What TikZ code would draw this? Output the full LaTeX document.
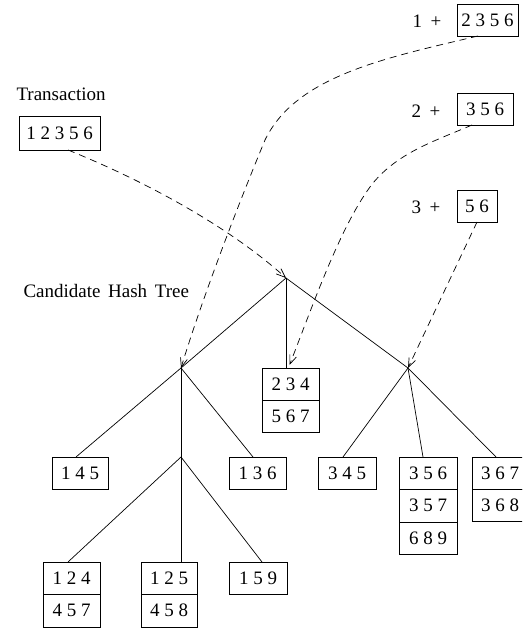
\documentclass[tikz,border=0pt]{standalone}
\usepackage{fontspec}
\setmainfont{Liberation Serif}
\usetikzlibrary{arrows.meta}

\begin{document}
\begin{tikzpicture}[x=1pt,y=-1pt,
  every node/.style={font=\fontsize{19}{21}\selectfont},
  cell/.style={draw, line width=0.8pt, inner sep=0pt, outer sep=0pt,
    minimum height=32pt, anchor=center},
  edge/.style={line width=0.7pt},
  probe/.style={line width=0.7pt, dash pattern=on 7pt off 5pt,
    -{Straight Barb[length=9pt,width=7pt]}}
]
\useasboundingbox (0,0) rectangle (522,628);
\clip (0,0) rectangle (522,628);

% transaction and its prefixes
\node[anchor=base west] (trlabel) at (13,101) {Transaction};
\node[cell, minimum width=81pt, minimum height=34pt] (trbox) at (59.5,133) {1 2 3 5 6};

\node[anchor=base west] (p1) at (409,28) {1\hspace{0.45em}+};
\node[cell, minimum width=61pt] (b2356) at (487.5,20) {2 3 5 6};
\node[anchor=base west] (p2) at (408,118) {2\hspace{0.45em}+};
\node[cell, minimum width=56pt] (b356t) at (485,109) {3 5 6};
\node[anchor=base west] (p3) at (408,213) {3\hspace{0.45em}+};
\node[cell, minimum width=40pt] (b56) at (477,206) {5 6};

\node[anchor=base west] (htlabel) at (20,297) {Candidate\hspace{0.4em}Hash\hspace{0.4em}Tree};

% interior points of the hash tree
\coordinate (root) at (286,278);
\coordinate (nL) at (181,368);
\coordinate (nR) at (408,368);
\coordinate (n2) at (181,457);

% leaves
\node[cell, minimum width=57pt] (b234) at (290.5,384) {2 3 4};
\node[cell, minimum width=57pt] (b567) at (290.5,416) {5 6 7};

\node[cell, minimum width=56pt] (b145) at (80,473) {1 4 5};
\node[cell, minimum width=57pt] (b136) at (257.5,473) {1 3 6};

\node[cell, minimum width=58pt] (b345) at (347,473) {3 4 5};
\node[cell, minimum width=58pt] (b356) at (428,473) {3 5 6};
\node[cell, minimum width=58pt, minimum height=33pt] (b357) at (428,505.5) {3 5 7};
\node[cell, minimum width=58pt] (b689) at (428,538) {6 8 9};
\node[cell, minimum width=56pt] (b367) at (500,473) {3 6 7};
\node[cell, minimum width=56pt] (b368) at (500,505) {3 6 8};

\node[cell, minimum width=57pt] (b124) at (71.5,578) {1 2 4};
\node[cell, minimum width=57pt, minimum height=33pt] (b457) at (71.5,610.5) {4 5 7};
\node[cell, minimum width=56pt] (b125) at (169,578) {1 2 5};
\node[cell, minimum width=56pt, minimum height=33pt] (b458) at (169,610.5) {4 5 8};
\node[cell, minimum width=58pt] (b159) at (258,578) {1 5 9};

% tree edges
\draw[edge] (root) -- (nL);
\draw[edge] (root) -- (root |- b234.north);
\draw[edge] (root) -- (nR);

\draw[edge] (nL) -- ([xshift=-4pt]b145.north);
\draw[edge] (nL) -- (n2);
\draw[edge] (nL) -- ([xshift=-4.5pt]b136.north);

\draw[edge] (n2) -- ([xshift=-3.5pt]b124.north);
\draw[edge] (n2) -- (n2 |- b125.north);
\draw[edge] (n2) -- ([xshift=4pt]b159.north);

\draw[edge] (nR) -- ([xshift=-4pt]b345.north);
\draw[edge] (nR) -- ([xshift=-5pt]b356.north);
\draw[edge] (nR) -- ([xshift=-4pt]b367.north);

% hashing paths
\draw[probe] ([xshift=8.5pt]trbox.south) .. controls (152,184) and (233,230) .. (root);
\draw[probe] ([xshift=-9.5pt]b2356.south) .. controls (385,58) and (296,76) .. (265,140)
  .. controls (238,205) and (202,299) .. (nL);
\draw[probe] ([xshift=-13pt]b356t.south) .. controls (435,141) and (399,152) .. (373,183)
  .. controls (341,224) and (313,305) .. ([xshift=-1pt,yshift=3pt]b234.north);
\draw[probe] (b56.south) -- (nR);
\end{tikzpicture}
\end{document}
